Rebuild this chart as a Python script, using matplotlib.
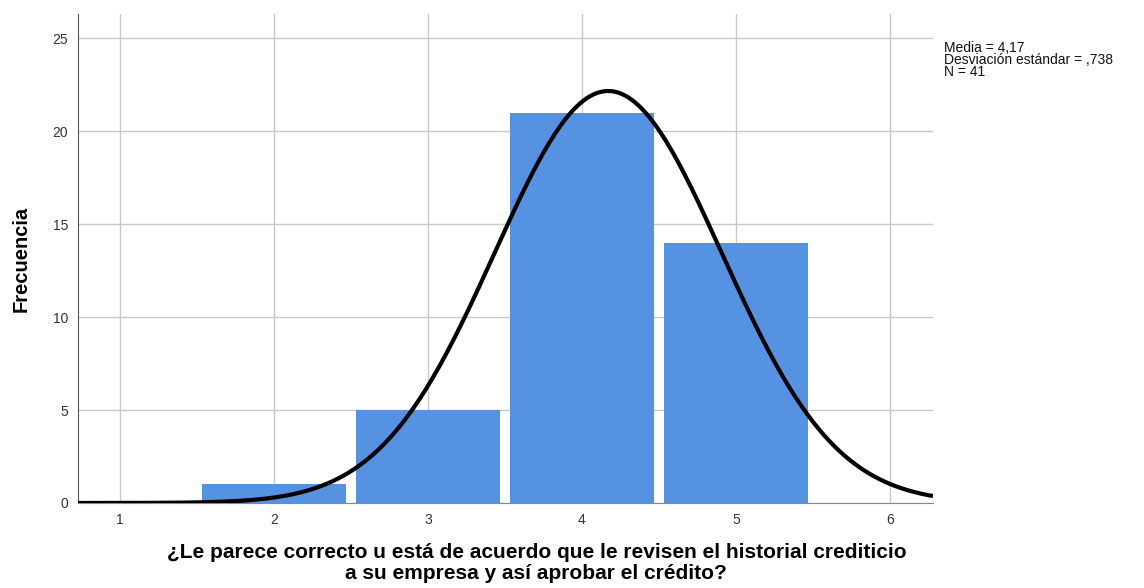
import numpy as np
import matplotlib
matplotlib.use("Agg")
import matplotlib.pyplot as plt

plt.rcParams["font.family"] = ["Liberation Sans", "DejaVu Sans"]

# Data
categories = [2, 3, 4, 5]
frequencies = [1, 5, 21, 14]
mean_val = 4.17
std_val = 0.738
n_val = 41
x_ticks = [1, 2, 3, 4, 5, 6]
y_ticks = [0, 5, 10, 15, 20, 25]

fig = plt.figure(figsize=(11.44, 5.88), dpi=100)
ax = fig.add_axes([0.0682, 0.1446, 0.7474, 0.8314])

ax.set_xlim(0.727, 6.28)
ax.set_ylim(0, 26.3)

ax.set_axisbelow(True)
ax.grid(True, color="#c8c8c8", linewidth=1.0)
ax.set_xticks(x_ticks)
ax.set_yticks(y_ticks)
ax.tick_params(length=0, labelsize=10, colors="#333333", pad=7)

ax.bar(categories, frequencies, width=0.94, color="#5593e2", edgecolor="none", zorder=2)

xs = np.linspace(0.727, 6.28, 500)
ys = n_val * 1.0 * np.exp(-0.5 * ((xs - mean_val) / std_val) ** 2) / (std_val * np.sqrt(2 * np.pi))
ax.plot(xs, ys, color="black", linewidth=3, zorder=3, solid_capstyle="butt")

for s in ["top", "right"]:
    ax.spines[s].set_visible(False)
ax.spines["left"].set_color("#555555")
ax.spines["bottom"].set_color("#888888")

ax.set_ylabel("Frecuencia", fontsize=14.5, fontweight="bold", labelpad=16)
ax.set_xlabel("¿Le parece correcto u está de acuerdo que le revisen el historial crediticio\na su empresa y así aprobar el crédito?",
              fontsize=15, fontweight="bold", linespacing=1.12)
ax.xaxis.set_label_coords(0.536, -0.082)
ax.xaxis.label.set_va("top")

fig.text(944 / 1144, 1 - 41 / 588,
         f"Media = {mean_val:.2f}".replace(".", ",") + "\n" +
         f"Desviación estándar = ,{int(round(std_val * 1000))}" + "\n" +
         f"N = {n_val}",
         fontsize=10, va="top", ha="left", linespacing=0.82, color="#111111")

fig.savefig("out.png", dpi=100)
